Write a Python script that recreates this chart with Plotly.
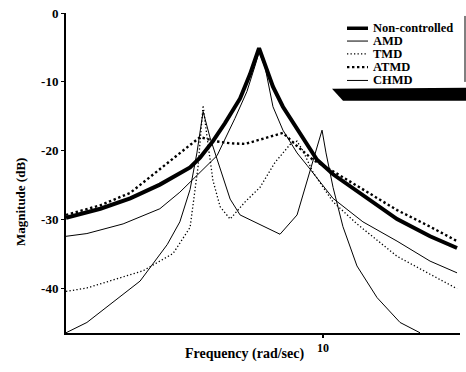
import plotly.graph_objects as go

# ---- data (frequency in rad/sec, magnitude in dB) ----
freq_nc = [2.00, 2.48, 2.99, 3.60, 4.35, 4.63, 5.02, 5.41, 5.95, 6.33, 6.70, 7.31, 7.78, 8.66, 9.63, 10.65, 12.84, 15.90, 19.55, 23.15]
db_nc = [-29.7, -28.4, -26.9, -24.9, -22.4, -21.0, -18.6, -16.0, -12.4, -8.9, -5.1, -10.7, -13.6, -17.4, -21.3, -23.4, -26.4, -29.9, -32.4, -34.1]

freq_amd = [2.00, 2.28, 2.86, 3.60, 4.08, 5.15, 5.76, 6.21, 6.53, 6.70, 6.96, 7.31, 7.78, 8.50, 9.05, 9.81, 10.65, 12.84, 15.90, 19.55, 23.15]
db_amd = [-32.4, -32.0, -30.6, -28.4, -26.0, -20.7, -15.3, -11.4, -7.7, -5.7, -7.9, -13.6, -17.0, -20.3, -22.1, -24.4, -26.9, -30.3, -33.1, -36.0, -37.7]

freq_tmd = [2.00, 2.28, 3.24, 3.91, 4.16, 4.35, 4.57, 4.72, 4.84, 5.02, 5.25, 5.59, 6.14, 6.74, 7.40, 8.13, 8.50, 8.82, 9.39, 10.65, 12.37, 15.90, 19.55, 23.15]
db_tmd = [-40.4, -39.9, -37.4, -34.9, -32.7, -31.1, -22.4, -13.4, -18.1, -24.3, -28.1, -29.9, -27.4, -25.3, -21.7, -19.1, -18.6, -20.0, -23.1, -27.4, -30.6, -35.3, -37.9, -40.0]

freq_atmd = [2.00, 2.48, 2.99, 3.60, 4.08, 4.63, 5.09, 5.59, 6.14, 6.74, 7.78, 8.50, 9.39, 10.45, 12.84, 15.90, 19.55, 23.15]
db_atmd = [-29.3, -27.9, -26.1, -22.7, -20.3, -18.0, -18.6, -18.9, -19.0, -18.4, -17.4, -19.3, -21.3, -22.7, -25.6, -28.6, -31.0, -33.1]

freq_chmd = [2.00, 2.28, 3.18, 3.45, 3.77, 4.08, 4.35, 4.54, 4.72, 4.93, 5.25, 5.59, 5.95, 6.74, 7.64, 8.50, 9.22, 9.94, 10.19, 10.65, 11.33, 12.37, 14.03, 16.20, 18.36]
db_chmd = [-46.4, -44.9, -38.9, -36.4, -33.6, -30.3, -25.6, -20.3, -14.3, -18.1, -22.7, -27.0, -29.3, -30.7, -32.1, -29.3, -23.1, -17.0, -20.3, -25.3, -31.0, -36.7, -41.3, -44.9, -46.4]

series_names = ["Non-controlled", "AMD", "TMD", "ATMD", "CHMD"]
y_ticks = [0, -10, -20, -30, -40]
y_ticktext = ["0", "-10", "-20", "-30", "-40"]
x_ticks = [10]
x_ticktext = ["10"]

# ---- styles ----
FONT = "Liberation Serif"
styles = {
    "Non-controlled": dict(color="black", width=4),
    "AMD": dict(color="black", width=1),
    "TMD": dict(color="black", width=1.3, dash="1.3px,2.2px"),
    "ATMD": dict(color="black", width=2.4, dash="2.4px,2.6px"),
    "CHMD": dict(color="black", width=1),
}

fig = go.Figure()
data = {
    "CHMD": (freq_chmd, db_chmd),
    "AMD": (freq_amd, db_amd),
    "TMD": (freq_tmd, db_tmd),
    "ATMD": (freq_atmd, db_atmd),
    "Non-controlled": (freq_nc, db_nc),
}
for name, (fx, fy) in data.items():
    fig.add_trace(go.Scatter(x=fx, y=fy, mode="lines", name=name,
                             line=styles[name], showlegend=False))

W, H = 466, 372
L, R, T, B = 66, 6, 8, 39


def px(x):
    return (x - L) / (W - L - R)


def py(y):
    return (H - B - y) / (H - T - B)


fig.update_layout(
    width=W, height=H,
    margin=dict(l=L, r=R, t=T, b=B, pad=0),
    paper_bgcolor="white", plot_bgcolor="white",
    font=dict(family=FONT, color="black", size=13, weight="bold"),
    xaxis=dict(type="log", range=[0.30103, 1.3726], showgrid=False, zeroline=False,
               showline=True, linecolor="black", linewidth=2,
               tickvals=x_ticks, ticktext=x_ticktext, ticks="outside", ticklen=3,
               tickwidth=1.5, tickcolor="black",
               tickfont=dict(family=FONT, size=12, weight="bold")),
    yaxis=dict(range=[-46.43, 0], showgrid=False, zeroline=False,
               showline=True, linecolor="black", linewidth=2,
               tickvals=y_ticks, ticktext=y_ticktext, ticks="outside", ticklen=3,
               tickwidth=1, tickcolor="black",
               tickfont=dict(family=FONT, size=13, weight="bold")),
)

# axis titles
fig.add_annotation(text="Magnitude (dB)", xref="paper", yref="paper",
                   x=px(20), y=py(200), textangle=-90, showarrow=False,
                   xanchor="center", yanchor="middle",
                   font=dict(family=FONT, size=13, weight="bold"))
fig.add_annotation(text="Frequency (rad/sec)", xref="paper", yref="paper",
                   x=px(244), y=py(354), showarrow=False,
                   xanchor="center", yanchor="middle",
                   font=dict(family=FONT, size=14, weight="bold"))

# custom legend
legend_rows = [23.5, 36.5, 49.5, 63, 76.5]
for name, yrow in zip(series_names, legend_rows):
    st = dict(styles[name])
    if name == "Non-controlled":
        st["width"] = 3.5
    fig.add_shape(type="line", xref="paper", yref="paper",
                  x0=px(347), x1=px(368), y0=py(yrow), y1=py(yrow), line=st)
    fig.add_annotation(text=name, xref="paper", yref="paper",
                       x=px(372), y=py(yrow), showarrow=False,
                       xanchor="left", yanchor="middle", borderpad=0,
                       font=dict(family=FONT, size=12.5, weight="bold"))

# legend frame: right edge and black shadow bar
fig.add_shape(type="line", xref="paper", yref="paper",
              x0=px(465), x1=px(465), y0=py(11), y1=py(78),
              line=dict(color="black", width=1))
fig.add_shape(type="path", xref="paper", yref="paper",
              path=f"M {px(332)},{py(85)} L {px(466)},{py(84)} L {px(466)},{py(97)} L {px(343)},{py(97)} Z",
              fillcolor="black", line=dict(width=0))

fig.write_html("out.html")
